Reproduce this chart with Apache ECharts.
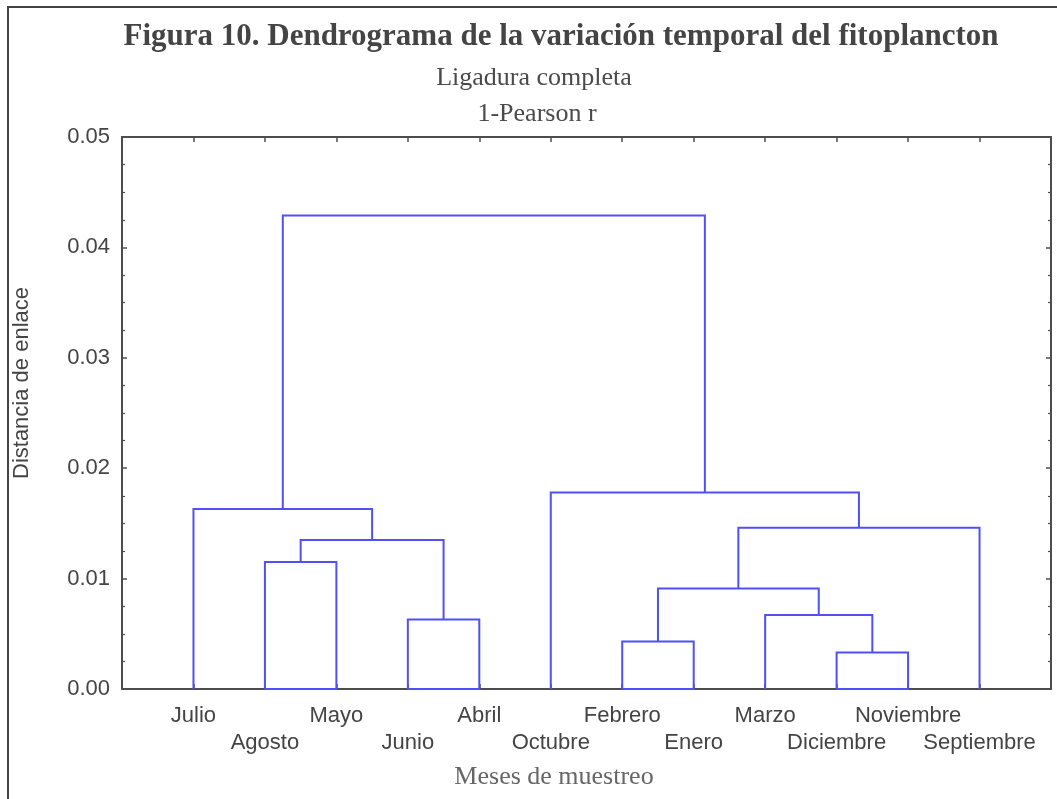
<!DOCTYPE html>
<html>
<head>
<meta charset="utf-8">
<script src="https://cdn.jsdelivr.net/npm/echarts@6/dist/echarts.min.js"></script>
<style>
html,body{margin:0;padding:0;background:#fff;}
#chart{width:1057px;height:799px;}
</style>
</head>
<body>
<div id="chart"></div>
<script>
// Leaves in dendrogram order (left to right)
const leaves = ['Julio','Agosto','Mayo','Junio','Abril','Octubre','Febrero','Enero','Marzo','Diciembre','Noviembre','Septiembre'];
// Merges: ids 0..11 are leaves, 12+ are clusters formed in this order
const mergeLeft  = [1, 3, 12, 0, 6, 9, 8, 16, 19, 5, 15];
const mergeRight = [2, 4, 13, 14, 7, 10, 17, 18, 11, 20, 21];
const mergeHeight = [0.0115, 0.0063, 0.0135, 0.0163, 0.0043, 0.0033, 0.0067, 0.0091, 0.0146, 0.0178, 0.0429];
const yTicks = ['0.00','0.01','0.02','0.03','0.04','0.05'];

const n = leaves.length;
const nodeX = leaves.map((_, i) => i + 1);
const nodeH = leaves.map(() => 0);
const merges = [];
for (let k = 0; k < mergeLeft.length; k++) {
  const a = mergeLeft[k], b = mergeRight[k], h = mergeHeight[k];
  merges.push([nodeX[a], nodeH[a], nodeX[b], nodeH[b], h, (a < n && b < n) ? 1 : 0]);
  nodeX.push((nodeX[a] + nodeX[b]) / 2);
  nodeH.push(h);
}

const axisCol = '#4d4d4d';
const chart = echarts.init(document.getElementById('chart'));
chart.setOption({
  animation: false,
  backgroundColor: '#fff',
  grid: {left: 122, right: 6, top: 137, bottom: 110, containLabel: false},
  xAxis: [{
    type: 'value', position: 'bottom', min: 0, max: n + 1, interval: 1,
    splitLine: {show: false},
    axisLine: {onZero: false, lineStyle: {color: axisCol, width: 2}},
    axisTick: {inside: true, length: 5, lineStyle: {color: axisCol, width: 1.5}},
    axisLabel: {
      margin: 13, fontSize: 22, color: '#444', lineHeight: 27,
      fontFamily: 'Liberation Sans, Arial, sans-serif',
      formatter: v => {
        const i = Math.round(v) - 1;
        if (i < 0 || i >= n) return '';
        return (i % 2 === 0) ? leaves[i] : '\n' + leaves[i];
      }
    }
  }, {
    type: 'value', position: 'top', min: 0, max: n + 1, interval: 1,
    splitLine: {show: false},
    axisLine: {onZero: false, lineStyle: {color: axisCol, width: 2}},
    axisTick: {inside: true, length: 5, lineStyle: {color: axisCol, width: 1.5}},
    axisLabel: {show: false}
  }],
  yAxis: [{
    type: 'value', position: 'left', min: 0, max: 0.05, interval: 0.01,
    splitLine: {show: false},
    axisLine: {show: true, onZero: false, lineStyle: {color: axisCol, width: 2}},
    axisTick: {show: true, inside: true, length: 5, lineStyle: {color: axisCol, width: 1.5}},
    minorTick: {show: true, splitNumber: 4, length: 3, lineStyle: {color: axisCol, width: 1.2}},
    axisLabel: {margin: 12, fontSize: 22, color: '#444', fontFamily: 'Liberation Sans, Arial, sans-serif',
      padding: [5, 0, 0, 0],
      formatter: v => yTicks[Math.round(v * 100)]}
  }, {
    type: 'value', position: 'right', min: 0, max: 0.05, interval: 0.01,
    splitLine: {show: false},
    axisLine: {show: true, onZero: false, lineStyle: {color: axisCol, width: 2}},
    axisTick: {show: true, inside: true, length: 5, lineStyle: {color: axisCol, width: 1.5}},
    minorTick: {show: true, splitNumber: 4, length: 3, lineStyle: {color: axisCol, width: 1.2}},
    axisLabel: {show: false}
  }],
  series: [{
    type: 'custom',
    xAxisIndex: 0, yAxisIndex: 0,
    data: merges,
    clip: false,
    renderItem: (params, api) => {
      const x1 = api.value(0), h1 = api.value(1), x2 = api.value(2), h2 = api.value(3), h = api.value(4), closed = api.value(5);
      const pts = [api.coord([x1, h1]), api.coord([x1, h]), api.coord([x2, h]), api.coord([x2, h2])];
      if (closed) pts.push(api.coord([x1, h1]));
      return {type: 'polyline', shape: {points: pts}, style: {stroke: '#5050f5', lineWidth: 2, fill: null}};
    }
  }],
  graphic: [
    {type: 'rect', shape: {x: 8, y: 7, width: 1200, height: 900}, style: {fill: null, stroke: '#444', lineWidth: 2}, silent: true},
    {type: 'text', x: 561, y: 37, style: {text: 'Figura 10. Dendrograma de la variación temporal del fitoplancton', font: 'bold 31px "Liberation Serif", "Times New Roman", serif', fill: '#444', textAlign: 'center', textVerticalAlign: 'middle'}},
    {type: 'text', x: 534, y: 78, style: {text: 'Ligadura completa', font: '26px "Liberation Serif", "Times New Roman", serif', fill: '#4a4a4a', textAlign: 'center', textVerticalAlign: 'middle'}},
    {type: 'text', x: 537, y: 114, style: {text: '1-Pearson r', font: '26px "Liberation Serif", "Times New Roman", serif', fill: '#4a4a4a', textAlign: 'center', textVerticalAlign: 'middle'}},
    {type: 'text', x: 554, y: 777, style: {text: 'Meses de muestreo', font: '26px "Liberation Serif", "Times New Roman", serif', fill: '#666', textAlign: 'center', textVerticalAlign: 'middle'}},
    {type: 'text', x: 22, y: 383, rotation: Math.PI / 2, style: {text: 'Distancia de enlace', font: '22px "Liberation Sans", Arial, sans-serif', fill: '#444', textAlign: 'center', textVerticalAlign: 'middle'}}
  ]
});
</script>
</body>
</html>
